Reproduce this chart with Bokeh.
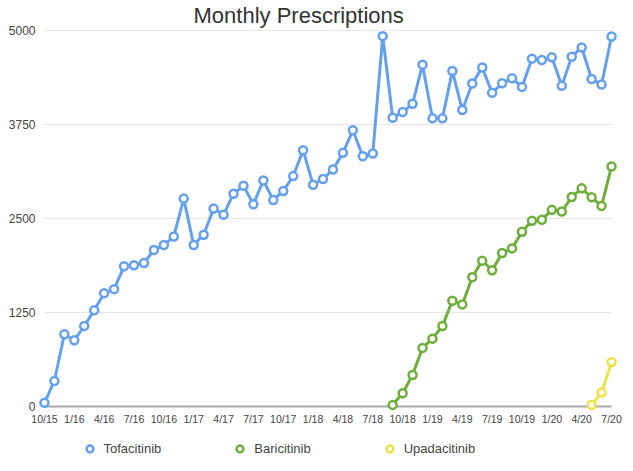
from bokeh.plotting import figure
from bokeh.models import FixedTicker, Legend, LegendItem
from bokeh.layouts import column
from bokeh.embed import file_html
from bokeh.resources import INLINE

# ---- data ----
months = ["10/15", "11/15", "12/15",
          "1/16", "2/16", "3/16", "4/16", "5/16", "6/16", "7/16", "8/16", "9/16", "10/16", "11/16", "12/16",
          "1/17", "2/17", "3/17", "4/17", "5/17", "6/17", "7/17", "8/17", "9/17", "10/17", "11/17", "12/17",
          "1/18", "2/18", "3/18", "4/18", "5/18", "6/18", "7/18", "8/18", "9/18", "10/18", "11/18", "12/18",
          "1/19", "2/19", "3/19", "4/19", "5/19", "6/19", "7/19", "8/19", "9/19", "10/19", "11/19", "12/19",
          "1/20", "2/20", "3/20", "4/20", "5/20", "6/20", "7/20"]

tick_labels = ["10/15", "1/16", "4/16", "7/16", "10/16", "1/17", "4/17", "7/17", "10/17", "1/18",
               "4/18", "7/18", "10/18", "1/19", "4/19", "7/19", "10/19", "1/20", "4/20", "7/20"]

y_ticks = [0, 1250, 2500, 3750, 5000]

tofacitinib = [50, 340, 962, 882, 1071, 1279, 1508, 1561, 1865, 1878,
               1909, 2081, 2147, 2262, 2765, 2147, 2284, 2632, 2549, 2830,
               2935, 2689, 3007, 2747, 2866, 3064, 3408, 2950, 3025, 3152,
               3373, 3673, 3329, 3364, 4925, 3840, 3915, 4025, 4546, 3832,
               3832, 4462, 3942, 4295, 4507, 4171, 4299, 4365, 4250, 4626,
               4607, 4643, 4264, 4652, 4775, 4356, 4282, 4921]

baricitinib_start = "9/18"
baricitinib = [22, 176, 419, 780, 903, 1071, 1406, 1358, 1720, 1940,
               1812, 2041, 2103, 2324, 2470, 2483, 2615, 2593, 2787, 2901,
               2782, 2668, 3192]

upadacitinib_start = "5/20"
upadacitinib = [22, 185, 591]

series = [
    ("Tofacitinib", months[0], tofacitinib, "#64A0EB"),
    ("Baricitinib", baricitinib_start, baricitinib, "#6EAF3C"),
    ("Upadacitinib", upadacitinib_start, upadacitinib, "#F0E146"),
]

FONT = "Liberation Sans"
n = len(months)

# ---- main chart ----
p = figure(width=633, height=432, x_range=(-0.7, n - 1 + 0.7), y_range=(-66, 5040),
           output_backend="svg", toolbar_location=None,
           min_border_left=37, min_border_right=15, min_border_top=24, min_border_bottom=21)
p.outline_line_color = None
p.background_fill_color = "white"
p.border_fill_color = "white"
p.xgrid.visible = False
p.ygrid.visible = False

p.title.text = "Monthly Prescriptions"
p.title.text_font = FONT
p.title.text_font_size = "22px"
p.title.text_font_style = "normal"
p.title.text_color = "#333333"
p.title.align = "left"
p.title.offset = 156
p.title.standoff = 0
p.title.vertical_align = "bottom"

# gridlines spanning the data range
p.segment(x0=0, x1=n - 1, y0=y_ticks[1:], y1=y_ticks[1:], line_color="#e6e6e6", line_width=1)
p.segment(x0=0, x1=n - 1, y0=y_ticks[0], y1=y_ticks[0], line_color="#a8a8a8", line_width=2)

series_xy = []
for name, start, vals, color in series:
    i0 = months.index(start)
    xs = list(range(i0, i0 + len(vals)))
    series_xy.append((name, xs, vals, color))
    p.line(xs, vals, line_color=color, line_width=3)
    p.scatter(xs, vals, size=8, fill_color="white", line_color=color, line_width=2.5)

tick_pos = [months.index(t) for t in tick_labels]
p.xaxis.ticker = FixedTicker(ticks=tick_pos)
p.xaxis.major_label_overrides = {pos: lab for pos, lab in zip(tick_pos, tick_labels)}
p.yaxis.ticker = FixedTicker(ticks=y_ticks)
p.yaxis.major_label_overrides = {t: str(t) for t in y_ticks}
for ax in (p.xaxis, p.yaxis):
    ax.axis_line_color = None
    ax.major_tick_line_color = None
    ax.minor_tick_line_color = None
    ax.major_tick_out = 0
    ax.major_tick_in = 0
    ax.major_label_text_font = FONT
    ax.major_label_text_color = "#444444"
p.xaxis.major_label_text_font_size = "10.5px"
p.xaxis.major_label_standoff = 1
p.yaxis.major_label_text_font_size = "12px"
p.yaxis.major_label_standoff = 2

# ---- legend strip (same series, view range kept empty so only the legend shows) ----
q = figure(width=633, height=39, x_range=(-2, -1), y_range=(-2, -1),
           output_backend="svg", toolbar_location=None,
           x_axis_type=None, y_axis_type=None,
           min_border_left=0, min_border_right=0, min_border_top=0, min_border_bottom=0)
q.outline_line_color = None
q.xgrid.visible = False
q.ygrid.visible = False
q.background_fill_color = "white"
q.border_fill_color = "white"

items = []
for name, xs, vals, color in series_xy:
    r = q.scatter(xs, vals, size=8, fill_color="white", line_color=color, line_width=2.5)
    items.append(LegendItem(label=name, renderers=[r]))

legend = Legend(items=items, orientation="horizontal", location=(43.5, 14.5),
                glyph_width=17, glyph_height=17, label_standoff=6, spacing=70,
                padding=0, margin=0, border_line_color=None, background_fill_alpha=0,
                label_text_font=FONT, label_text_font_size="13px", label_text_color="#444444")
q.add_layout(legend, "center")

layout = column(p, q, spacing=0)
open("out.html", "w").write(file_html(layout, INLINE))
